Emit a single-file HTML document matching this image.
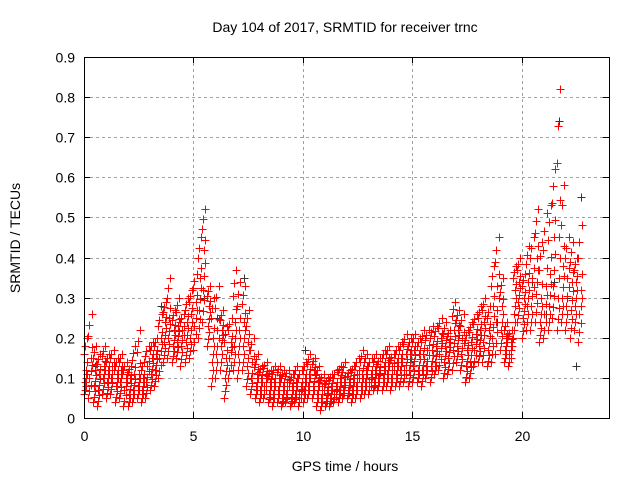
<!DOCTYPE html>
<html><head><meta charset="utf-8"><style>
body{margin:0;background:#fff;}
svg{display:block;font-family:"Liberation Sans",sans-serif;}
</style></head><body>
<svg id="chart" width="640" height="480" xmlns="http://www.w3.org/2000/svg">
<rect width="640" height="480" fill="#fff"/>
<text x="345" y="32" text-anchor="middle" font-size="14">Day 104 of 2017, SRMTID for receiver trnc</text>
<text transform="translate(20,238) rotate(-90)" text-anchor="middle" font-size="14">SRMTID / TECUs</text>
<text x="345" y="471" text-anchor="middle" font-size="14">GPS time / hours</text>
<g id="grid"></g>
<g id="ticks"></g>
<g id="marks" shape-rendering="crispEdges"></g>
<rect x="84.5" y="57.5" width="525" height="361" fill="none" stroke="#000" stroke-width="1"/>
</svg>
<script>
const xTicks=[0,5,10,15,20];
const yTicks=[0,0.1,0.2,0.3,0.4,0.5,0.6,0.7,0.8,0.9];
const yTickLabels=["0","0.1","0.2","0.3","0.4","0.5","0.6","0.7","0.8","0.9"];
const redTimes=[0.0,0.2,0.4,0.6,0.8,1.0,1.2,1.4,1.6,1.8,2.0,2.2,2.4,2.6,2.8,3.0,3.2,3.4,3.6,3.8,4.0,4.2,4.4,4.6,4.8,5.0,5.2,5.4,5.6,5.8,6.0,6.2,6.4,6.6,6.8,7.0,7.2,7.4,7.6,7.8,8.0,8.2,8.4,8.6,8.8,9.0,9.2,9.4,9.6,9.8,10.0,10.2,10.4,10.6,10.8,11.0,11.2,11.4,11.6,11.8,12.0,12.2,12.4,12.6,12.8,13.0,13.2,13.4,13.6,13.8,14.0,14.2,14.4,14.6,14.8,15.0,15.2,15.4,15.6,15.8,16.0,16.2,16.4,16.6,16.8,17.0,17.2,17.4,17.6,17.8,18.0,18.2,18.4,18.6,18.8,19.0,19.2,19.4,19.6,19.8,20.0,20.2,20.4,20.6,20.8,21.0,21.2,21.4,21.6,21.8,22.0,22.2,22.4,22.6];
const redLow=[.06,.05,.04,.03,.06,.05,.06,.04,.05,.03,.03,.04,.05,.04,.05,.07,.08,.10,.14,.15,.14,.15,.13,.14,.15,.17,.20,.24,.18,.08,.10,.12,.05,.10,.12,.10,.12,.08,.06,.05,.04,.05,.04,.03,.04,.03,.04,.03,.04,.03,.04,.05,.05,.03,.02,.03,.03,.04,.04,.05,.05,.04,.05,.05,.06,.06,.07,.07,.07,.08,.07,.08,.08,.09,.08,.09,.09,.08,.10,.09,.11,.12,.10,.11,.12,.14,.12,.09,.10,.13,.14,.14,.13,.14,.16,.17,.14,.13,.20,.24,.20,.22,.22,.24,.19,.20,.22,.25,.22,.24,.22,.20,.22,.19];
const redMid1=[.09,.10,.08,.07,.10,.09,.10,.08,.09,.07,.06,.07,.08,.07,.09,.11,.12,.15,.19,.20,.18,.19,.18,.19,.20,.23,.27,.32,.23,.14,.16,.18,.10,.15,.18,.16,.18,.13,.10,.08,.07,.08,.06,.06,.07,.05,.06,.05,.06,.06,.07,.08,.08,.06,.05,.05,.05,.06,.07,.07,.07,.07,.08,.08,.09,.09,.09,.10,.10,.11,.10,.11,.12,.12,.12,.13,.12,.12,.13,.13,.14,.16,.14,.15,.17,.18,.16,.13,.14,.17,.18,.19,.17,.20,.24,.22,.17,.16,.26,.29,.25,.28,.28,.31,.24,.26,.28,.33,.30,.30,.28,.27,.28,.26];
const redMid2=[.12,.15,.12,.11,.13,.12,.13,.11,.12,.10,.10,.11,.11,.10,.13,.15,.16,.20,.24,.25,.22,.23,.22,.24,.26,.29,.35,.42,.28,.20,.22,.22,.15,.19,.24,.22,.24,.19,.14,.11,.10,.11,.09,.09,.10,.08,.09,.08,.09,.08,.10,.11,.12,.09,.08,.07,.08,.08,.10,.09,.09,.10,.11,.11,.12,.11,.12,.12,.13,.14,.13,.14,.15,.16,.16,.17,.16,.16,.17,.17,.18,.20,.18,.19,.22,.22,.20,.17,.19,.21,.22,.24,.22,.28,.33,.28,.20,.19,.32,.34,.30,.34,.35,.40,.30,.33,.36,.45,.45,.38,.35,.34,.34,.32];
const redHigh=[.20,.26,.18,.16,.18,.16,.17,.15,.16,.14,.13,.18,.22,.14,.18,.19,.20,.26,.29,.35,.27,.30,.26,.30,.32,.36,.45,.52,.33,.30,.33,.27,.23,.25,.37,.34,.33,.27,.20,.16,.13,.14,.12,.13,.13,.12,.12,.11,.13,.12,.14,.16,.15,.13,.11,.10,.11,.12,.13,.14,.12,.13,.15,.17,.16,.15,.16,.15,.17,.18,.16,.18,.19,.21,.20,.21,.20,.22,.22,.23,.23,.25,.24,.22,.29,.27,.26,.22,.24,.26,.28,.30,.28,.38,.45,.35,.24,.22,.38,.40,.36,.43,.45,.52,.44,.51,.53,.62,.82,.58,.45,.44,.40,.48];
const blackTimes=[0.1,0.5,1.3,2.5,3.5,4.3,5.5,6.1,7.3,7.9,9.1,10.1,11.3,12.5,13.7,14.9,15.5,16.9,17.7,18.9,19.7,20.5,21.1,21.5,21.7,22.1,22.5,22.7];
const blackValues=[.08,.13,.09,.07,.28,.23,.30,.25,.35,.08,.06,.17,.06,.10,.11,.14,.12,.22,.13,.24,.32,.34,.26,.34,.74,.30,.13,.55];
const X=h=>84+h*525/24;
const Y=v=>418-v*361/0.9;
const NS="http://www.w3.org/2000/svg";
const grid=document.getElementById('grid'),ticks=document.getElementById('ticks'),marks=document.getElementById('marks');
function mk(tag,attrs,parent){const e=document.createElementNS(NS,tag);for(const k in attrs)e.setAttribute(k,attrs[k]);parent.appendChild(e);return e;}
xTicks.forEach(t=>{
  const x=Math.round(X(t))+0.5;
  if(t>0){const g=mk('line',{x1:x,x2:x,y1:57,y2:418,stroke:'#a0a0a0','stroke-dasharray':'3,3'},grid);
  
  }
  const tk=mk('path',{d:`M${x},418v-6M${x},57v6`,stroke:'#000'},ticks);
  
  
  const l=mk('text',{x:x,y:441,'text-anchor':'middle','font-size':'14'},ticks);l.textContent=String(t);
  
  
});
yTicks.forEach((v,i)=>{
  const y=Math.round(Y(v))+0.5;
  if(v>0&&v<0.9){const g=mk('line',{x1:84,x2:609,y1:y,y2:y,stroke:'#a0a0a0','stroke-dasharray':'3,3'},grid);
  
  }
  const tk=mk('path',{d:`M84,${y}h6M609,${y}h-6`,stroke:'#000'},ticks);
  
  
  const l=mk('text',{x:75,y:y+5,'text-anchor':'end','font-size':'14'},ticks);l.textContent=yTickLabels[i];
  
  
});
function plus(h,v,color,name){
  const x=Math.round(X(h))+0.5,y=Math.round(Y(v))+0.5;
  const p=mk('path',{d:`M${x-4},${y}h8M${x},${y-4}v8`,stroke:color,'stroke-width':'1'},marks);
  
  
}
blackTimes.forEach((t,i)=>plus(t,blackValues[i],'#333','point-black'));
redTimes.forEach((t,i)=>{
  const lv=[redLow[i],redMid1[i],redMid2[i],redHigh[i]];
  lv.forEach((v,k)=>plus(t+k*0.05,v,'#ff0000','point-red'));
  // fill between adjacent levels
  for(let k=0;k<3;k++){
    const a=lv[k],b=lv[k+1];
    const n=k===2?4:3;
    for(let j=1;j<n;j++){plus(t+((j+k)%4)*0.05,a+(b-a)*j/n,'#ff0000','point-red');}
  }
});
</script>
</body></html>
